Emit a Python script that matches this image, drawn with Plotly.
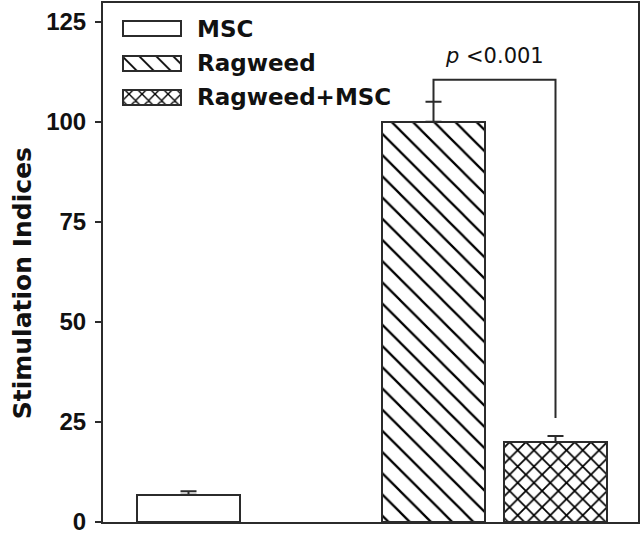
import plotly.graph_objects as go

# ---- data ----
categories = ["MSC", "Ragweed", "Ragweed+MSC"]
values = [6.8, 100.0, 20.0]
errors = [0.9, 5.0, 1.5]
y_ticks = [0, 25, 50, 75, 100, 125]
y_title = "Stimulation Indices"
p_label = "<i>p</i> <0.001"
bracket_levels = [105.0, 110.5, 26.0]  # left start, top, right end

# ---- layout constants (pixel-like x units) ----
X_RANGE = [0, 535]
Y_RANGE = [0, 129.7]
bar_centers = [85.5, 330.5, 452.5]
bar_width = 103
patterns = ["", "\\", "x"]
pattern_sizes = [10, 15, 11.5]
pattern_solid = [0.14, 0.15, 0.28]
LINE = "#2b2b2b"
FONT = "Liberation Sans, Arial, Helvetica, sans-serif"
WIDE = "DejaVu Sans, Verdana, sans-serif"

fig = go.Figure()

for i, cat in enumerate(categories):
    fig.add_trace(go.Bar(
        x=[bar_centers[i]], y=[values[i]], width=[bar_width], name=cat,
        marker=dict(color="white", line=dict(color=LINE, width=2),
                    pattern=dict(shape=patterns[i], size=pattern_sizes[i], solidity=pattern_solid[i],
                                 fgcolor="#000", bgcolor="white", fillmode="replace")),
        error_y=dict(type="data", symmetric=False, array=[errors[i]], arrayminus=[0],
                     color=LINE, thickness=2, width=8),
        showlegend=False,
    ))

# legend swatches (drawn as bars with their own base)
leg_x = 49
leg_w = 58
leg_rows = [123.3, 114.6, 106.1]
leg_h = 3.6
for i, cat in enumerate(categories):
    fig.add_trace(go.Bar(
        x=[leg_x], y=[leg_h], base=[leg_rows[i] - leg_h / 2], width=[leg_w],
        marker=dict(color="white", line=dict(color=LINE, width=2),
                    pattern=dict(shape=patterns[i], size=pattern_sizes[i] * 0.8,
                                 solidity=pattern_solid[i],
                                 fgcolor="#000", bgcolor="white", fillmode="replace")),
        showlegend=False, hoverinfo="skip",
    ))
    fig.add_annotation(x=leg_x + leg_w / 2 + 14, y=leg_rows[i], text="<b>%s</b>" % cat,
                       showarrow=False, xanchor="left", yanchor="middle",
                       font=dict(family=WIDE, size=23, color="#111"))

# significance bracket
fig.add_shape(type="path", xref="x", yref="y",
              path="M %f,%f L %f,%f L %f,%f L %f,%f" % (
                  bar_centers[1], bracket_levels[0], bar_centers[1], bracket_levels[1],
                  bar_centers[2], bracket_levels[1], bar_centers[2], bracket_levels[2]),
              line=dict(color=LINE, width=2))
fig.add_annotation(x=(bar_centers[1] + bar_centers[2]) / 2, y=bracket_levels[1] + 2.4,
                   text=p_label, showarrow=False, yanchor="bottom",
                   font=dict(family=WIDE, size=21, color="#111"))

# y-axis title
fig.add_annotation(xref="paper", yref="paper", x=0, y=0.46, xshift=-81,
                   text="<b>%s</b>" % y_title, textangle=-90, showarrow=False,
                   xanchor="center", yanchor="middle",
                   font=dict(family=WIDE, size=25, color="#111"))

fig.update_layout(
    width=643, height=537,
    margin=dict(l=103, r=5, t=1, b=15),
    paper_bgcolor="white", plot_bgcolor="white",
    barmode="overlay", bargap=0,
    font=dict(family=FONT, color="#111"),
)
fig.update_xaxes(range=X_RANGE, showticklabels=False, ticks="", showgrid=False,
                 zeroline=False, showline=True, linecolor=LINE, linewidth=2, mirror=True)
fig.update_yaxes(range=Y_RANGE, tickvals=y_ticks, ticktext=["<b>%d</b>" % t for t in y_ticks],
                 ticks="outside", ticklen=6, tickwidth=2, tickcolor=LINE, showgrid=False,
                 zeroline=False, showline=True, linecolor=LINE, linewidth=2, mirror=True,
                 tickfont=dict(family=FONT, size=24, color="#111"), ticklabelstandoff=4)

fig.write_html("out.html", config={"displayModeBar": False},
               post_script="document.body.style.margin='0';document.body.style.padding='0';")
